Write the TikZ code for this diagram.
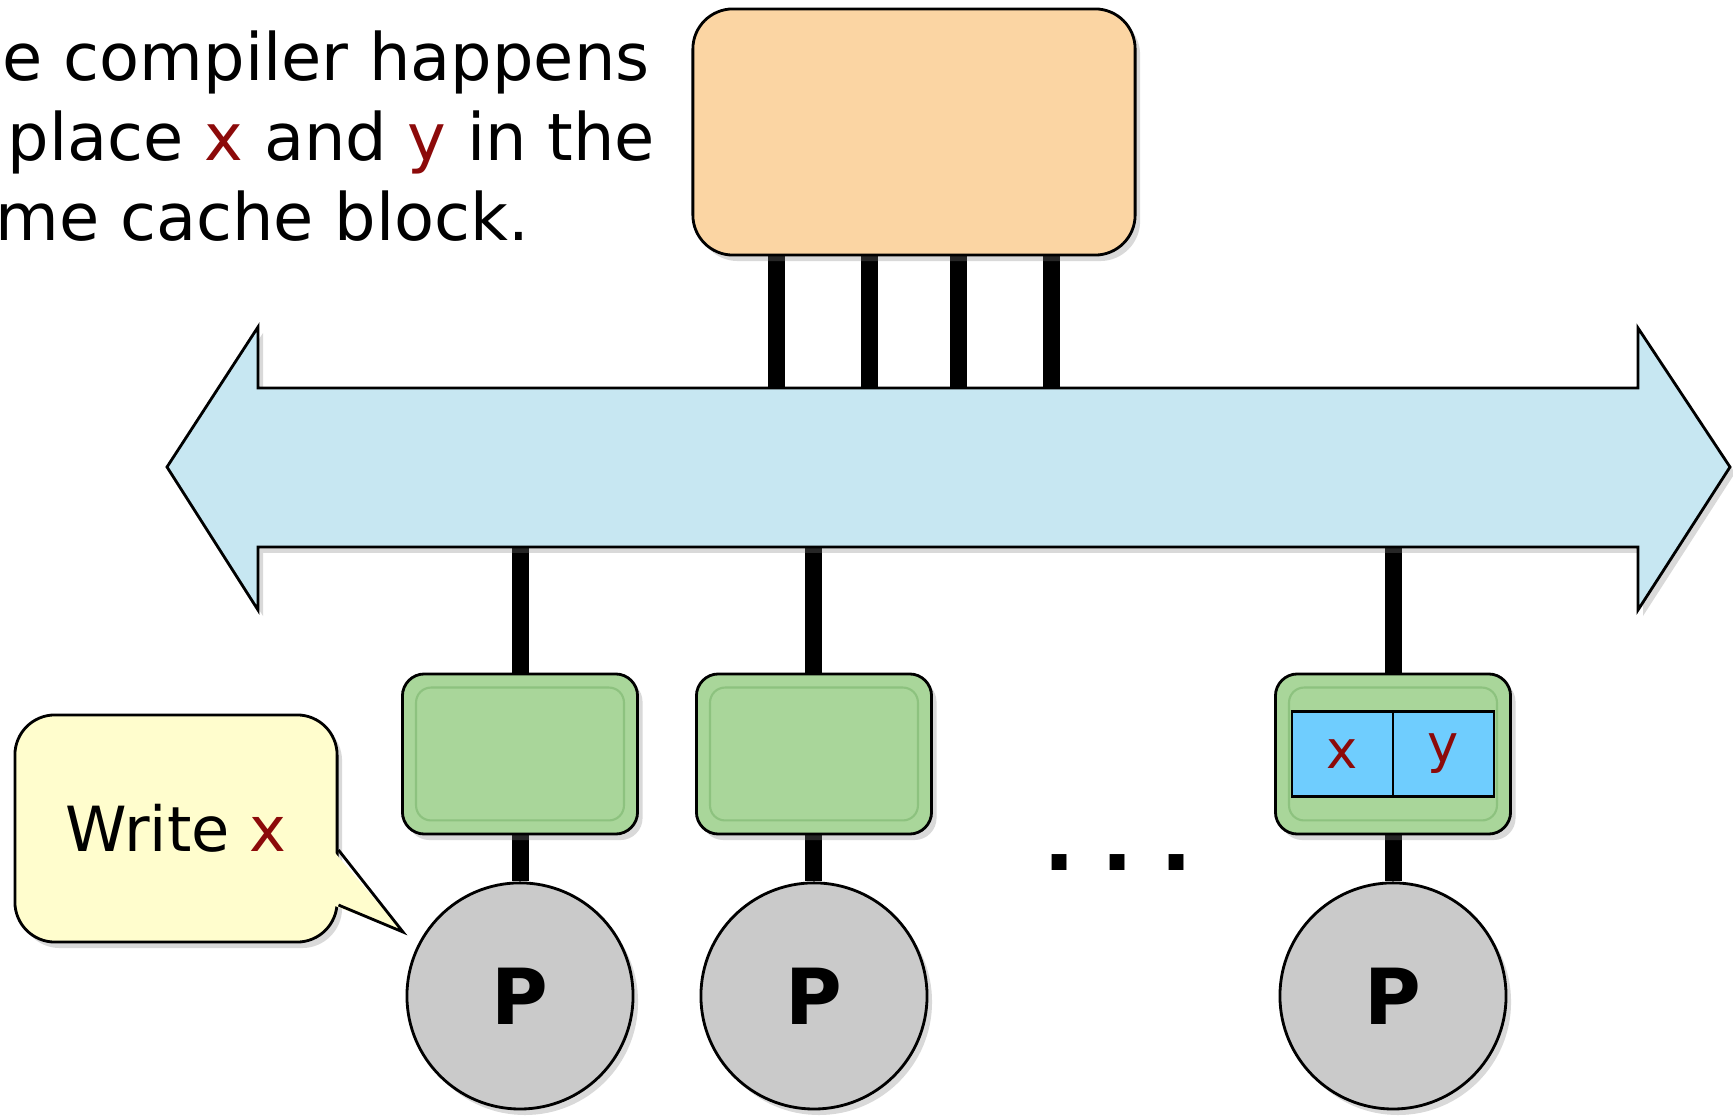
\documentclass[tikz,border=0pt]{standalone}
\usepackage{fontspec}
\setmainfont{DejaVu Sans}
\definecolor{memorange}{HTML}{FBD5A3}
\definecolor{busblue}{HTML}{C7E7F2}
\definecolor{cachegreen}{HTML}{A9D69A}
\definecolor{cacheedge}{HTML}{8DC27F}
\definecolor{cellblue}{HTML}{6FCDFE}
\definecolor{procgray}{HTML}{CACACA}
\definecolor{noteyellow}{HTML}{FFFDCD}
\definecolor{varred}{HTML}{8C0A0A}
\usepackage{tikz}
\usetikzlibrary{positioning, shadows, calc, backgrounds}

\begin{document}
\begin{tikzpicture}[x=0.01cm, y=-0.01cm, line width=0.8pt,
    every node/.style={font=\fontsize{18.6}{22.7}\selectfont},
    softshadow/.style={drop shadow={shadow xshift=0.05cm, shadow yshift=-0.06cm, opacity=0.3}},
    wire/.style={line width=0.17cm, black},
    cachebox/.style={draw, fill=cachegreen, rounded corners=0.22cm,
        minimum width=2.35cm, minimum height=1.6cm, softshadow},
    procnode/.style={draw, circle, fill=procgray, minimum size=2.26cm,
        font=\fontsize{22}{26}\bfseries, softshadow},
    cellbox/.style={draw, fill=cellblue, minimum width=1.01cm, minimum height=0.85cm,
        inner sep=0pt, outer sep=0pt, text=varred, font=\fontsize{15}{18}\selectfont}]
  \useasboundingbox (0,0) rectangle (1733,1119);
  \begin{scope}
    \clip (0,0) rectangle (1733,1119);
    % text at the top left
    \node[anchor=base west, inner sep=0pt] (line1) at (-80,81) {The compiler happens};
    \node[anchor=base west, inner sep=0pt] (line2) at (-80,161)
        {to place \textcolor{varred}{x} and \textcolor{varred}{y} in the};
    \node[anchor=base west, inner sep=0pt] (line3) at (-80,241) {same cache block.};
  \end{scope}

  % memory
  \node[draw, fill=memorange, rounded corners=0.4cm, minimum width=4.42cm,
        minimum height=2.46cm, softshadow] (mem) at (914,132) {};

  % bus
  \coordinate (bustop) at (0,388);
  \coordinate (busbot) at (0,547);
  \draw[fill=busblue, softshadow] (167,467) -- (258,327) -- (258,388) -- (1638,388)
    -- (1638,328) -- (1730,467) -- (1638,610) -- (1638,547) -- (258,547)
    -- (258,610) -- cycle;

  % caches and processors
  \node[cachebox] (cache1) at (520,754) {};
  \node[cachebox, right=0.56cm of cache1] (cache2) {};
  \node[cachebox] (cache3) at (1393,754) {};
  \foreach \c in {cache1,cache2,cache3}
    \draw[cacheedge, line width=0.6pt, rounded corners=0.15cm]
      ([shift={(0.15cm,-0.15cm)}]\c.north west) rectangle ([shift={(-0.15cm,0.15cm)}]\c.south east);
  \node[cellbox, anchor=east] (xcell) at (cache3.center) {x};
  \node[cellbox, right=0pt of xcell] (ycell) {y};

  \node[procnode, below=0.46cm of cache1] (proc1) {P};
  \node[procnode, below=0.46cm of cache2] (proc2) {P};
  \node[procnode, below=0.46cm of cache3] (proc3) {P};
  \node (dots) at (1118,863) {\fontsize{24}{24}\bfseries .\hspace{7.5pt}.\hspace{7.5pt}.};

  % wires
  \begin{scope}[on background layer]
    \foreach \f in {0.19,0.40,0.60,0.81}
      \draw[wire] ($(mem.south west)!\f!(mem.south east)$) coordinate (leg) -- (leg |- bustop);
    \foreach \i in {1,2,3} {
      \draw[wire] (cache\i.north |- busbot) -- (cache\i.north);
      \draw[wire] (cache\i.south) -- (proc\i.north);
    }
  \end{scope}

  % callout
  \node[draw, fill=noteyellow, rounded corners=0.4cm, minimum width=3.22cm,
        minimum height=2.27cm, font=\fontsize{17.7}{21}\selectfont, softshadow]
        (writenote) at (176,828.5) {Write \textcolor{varred}{x}};
  \coordinate (notetip) at (403,932);
  \fill[noteyellow] ([shift={(-0.06cm,-0.215cm)}]writenote.east) -- (notetip)
    -- ([shift={(-0.06cm,-0.765cm)}]writenote.east) -- cycle;
  \draw ([yshift=-0.215cm]writenote.east) -- (notetip) -- ([yshift=-0.765cm]writenote.east);
\end{tikzpicture}
\end{document}
